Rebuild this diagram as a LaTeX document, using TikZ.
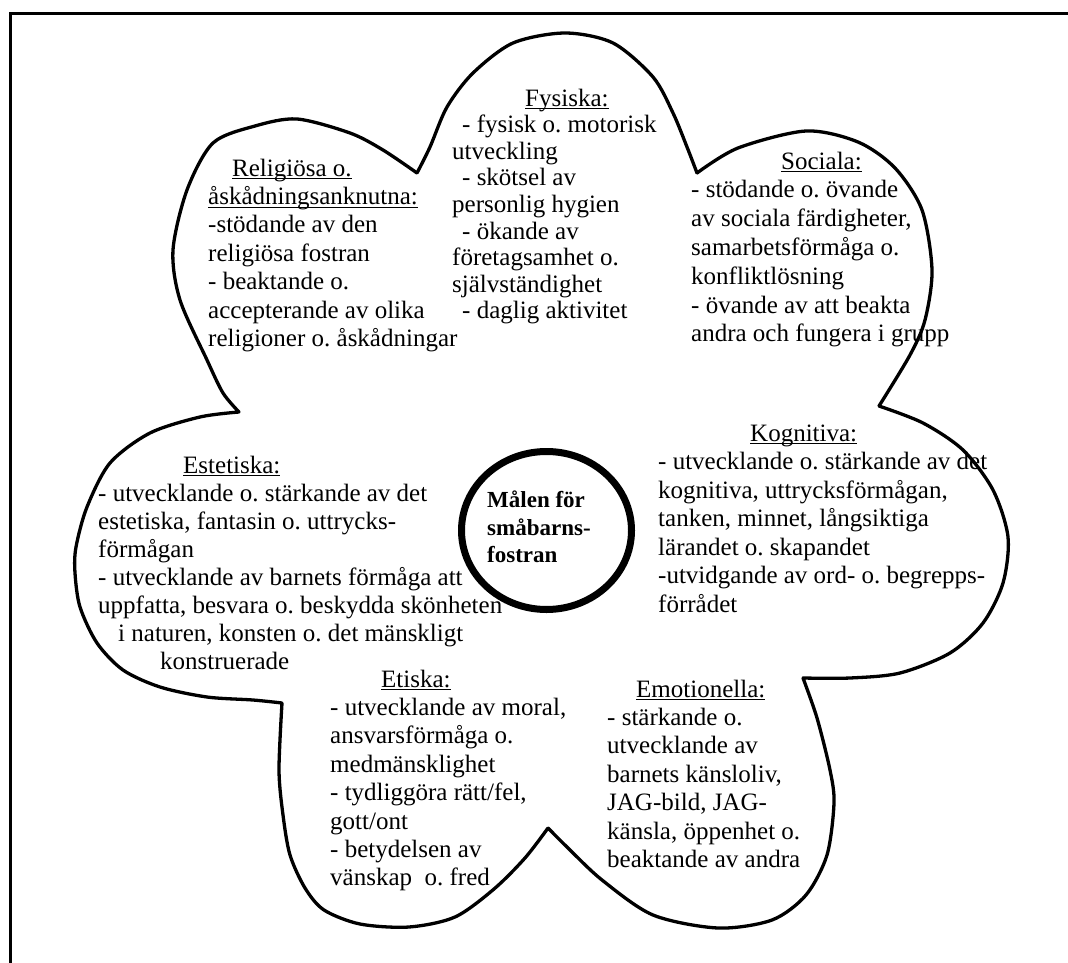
\documentclass[tikz,border=0pt]{standalone}
\usepackage{fontspec}
\setmainfont{Liberation Serif}
\frenchspacing
\newsavebox\ulbox
\newcommand\myul[1]{\sbox\ulbox{#1}\rlap{\rule[-3.2pt]{\wd\ulbox}{1.1pt}}\usebox\ulbox}
\begin{document}
\begin{tikzpicture}[x=1pt,y=-1pt,
  txt/.style={anchor=north west, inner sep=0pt, align=left, font=\frenchspacing\fontsize{25}{28.4}\selectfont},
  flower/.style={line width=3.3pt, line cap=round, line join=round},
  edgeline/.style={line width=2.7pt},
  ring/.style={line width=7pt}]
\useasboundingbox (0,0) rectangle (1068,963);
\fill[white] (0,0) rectangle (1068,963);
\coordinate (fa) at (10.3,963);
\coordinate (fb) at (10.3,13.5);
\coordinate (fc) at (1068,13.5);
\draw[edgeline] (fa) -- (fb) -- (fc);

% text blocks
\node[txt] (rel) at (208,158.5) {\hspace*{24pt}\myul{Religiösa o.}\\ \myul{åskådningsanknutna:}\\ -stödande av den\\ religiösa fostran\\ - beaktande o.\\ accepterande av olika\\ religioner o. åskådningar};
\node[txt, font=\frenchspacing\fontsize{25}{26.6}\selectfont] (fys) at (452,88.5) {\hspace*{73pt}\myul{Fysiska:}\\ \hspace*{10pt}- fysisk o. motorisk\\ utveckling\\ \hspace*{10pt}- skötsel av\\ personlig hygien\\ \hspace*{10pt}- ökande av\\ företagsamhet o.\\ självständighet\\ \hspace*{10pt}- daglig aktivitet};
\node[txt, font=\frenchspacing\fontsize{25}{28.8}\selectfont] (soc) at (691,151.5) {\hspace*{90pt}\myul{Sociala:}\\ - stödande o. övande\\ av sociala färdigheter,\\ samarbetsförmåga o.\\ konfliktlösning\\ - övande av att beakta\\ andra och fungera i grupp};
\node[txt, font=\frenchspacing\fontsize{25}{28.5}\selectfont] (kog) at (658,424.5) {\hspace*{92pt}\myul{Kognitiva:}\\ - utvecklande o. stärkande av det\\ kognitiva, uttrycksförmågan,\\ tanken, minnet, långsiktiga\\ lärandet o. skapandet\\ -utvidgande av ord- o. begrepps-\\ förrådet};
\node[txt, font=\frenchspacing\fontsize{25}{28}\selectfont] (est) at (98,455.5) {\hspace*{85pt}\myul{Estetiska:}\\ - utvecklande o. stärkande av det\\ estetiska, fantasin o. uttrycks-\\ förmågan\\ - utvecklande av barnets förmåga att\\ uppfatta, besvara o. beskydda skönheten\\ \hspace*{20pt}i naturen, konsten o. det mänskligt\\ \hspace*{62pt}konstruerade};
\node[txt] (eti) at (330,669.5) {\hspace*{51pt}\myul{Etiska:}\\ - utvecklande av moral,\\ ansvarsförmåga o.\\ medmänsklighet\\ - tydliggöra rätt/fel,\\ gott/ont\\ - betydelsen av\\ vänskap \ o. fred};
\node[txt] (emo) at (607,679.5) {\hspace*{29pt}\myul{Emotionella:}\\ - stärkande o.\\ utvecklande av\\ barnets känsloliv,\\ JAG-bild, JAG-\\ känsla, öppenhet o.\\ beaktande av andra};

% flower outline
\coordinate (c1) at (417,173);
\coordinate (c2) at (697,173);
\coordinate (c3) at (879,406);
\coordinate (c4) at (803,678);
\coordinate (c5) at (548,828);
\coordinate (c6) at (282,703);
\coordinate (c7) at (239,412);
\draw[flower]
  plot[smooth] coordinates {(c1) (430,147) (447,107) (473,73) (513,43) (565,33) (613,43) (653,77) (673,113) (687,147) (c2)}
  plot[smooth] coordinates {(c2) (738,148) (806,131) (858,142) (895,168) (922,210) (932,270) (925,320) (910,355) (c3)}
  plot[smooth] coordinates {(c3) (923,423) (963,450) (993,490) (1008,537) (1003,583) (983,623) (950,653) (900,673) (850,678) (c4)}
  plot[smooth] coordinates {(c4) (817,718) (830,770) (834,803) (827,855) (806,895) (772,920) (718,928) (653,915) (602,880) (568,848) (c5)}
  plot[smooth] coordinates {(c5) (525,858) (494,889) (455,917) (409,927) (360,924) (324,910) (305,888) (290,855) (283,815) (279,770) (c6)}
  plot[smooth] coordinates {(c6) (253,700) (207,697) (160,687) (123,670) (97,643) (80,607) (75,573) (76,547) (87,507) (110,463) (150,433) (200,417) (c7)}
  plot[smooth] coordinates {(c7) (223,393) (207,360) (180,300) (173,250) (187,190) (213,143) (255,126) (297,119) (350,133) (383,150) (c1)};

% centre
\node[anchor=north west, inner sep=0pt, align=left, font=\bfseries\fontsize{23}{27.5}\selectfont] (mal) at (487,491) {Målen för\\ småbarns-\\ fostran};
\coordinate (mid) at (546.5,530.5);
\draw[ring] (mid) ellipse [x radius=85pt, y radius=79pt];
\end{tikzpicture}
\end{document}
